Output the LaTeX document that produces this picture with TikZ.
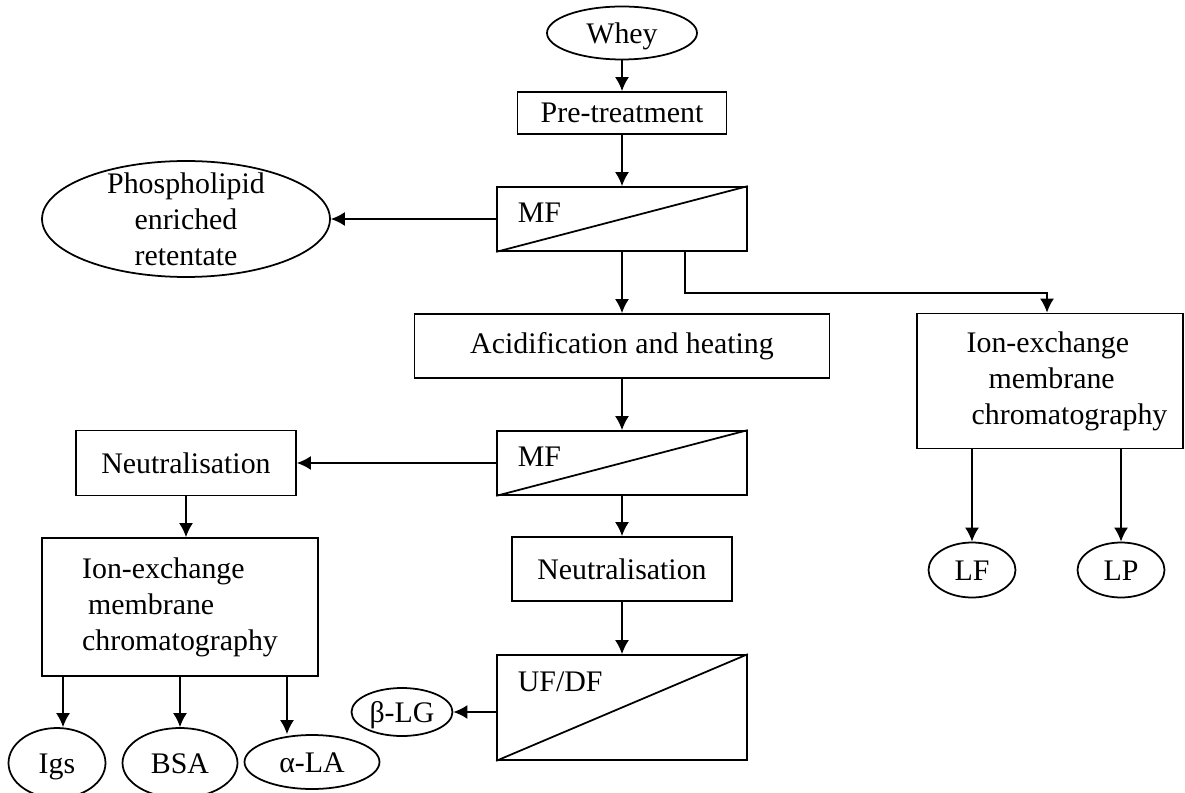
\documentclass[tikz,border=0pt]{standalone}
\usepackage{fontspec}
\setmainfont{Liberation Serif}
\usetikzlibrary{shapes.geometric,arrows.meta,positioning}
\tikzset{>={Latex[length=8pt,width=8pt]}}
\tikzset{
  stage/.style = {draw, rectangle, inner sep=0pt},
  product/.style = {draw, ellipse, inner sep=0pt, text height=11.4pt, text depth=0pt},
  filter/.style = {draw, rectangle, inner sep=0pt, minimum width=5cm, minimum height=1.28cm}
}

\begin{document}
\begin{tikzpicture}[x=0.02cm, y=-0.02cm, line width=1pt,
    font=\fontsize{17}{20.5}\selectfont]
  \useasboundingbox (0,0) rectangle (1185,793);
  % middle line
  \node[product, minimum width=3cm, minimum height=1.06cm] (whey) at (622,33) {Whey};
  \node[stage, minimum width=4.18cm, minimum height=0.84cm] (pre) at (622,113) {Pre-treatment};
  \node[filter] (mf1) at (622,219) {};
  \node[anchor=base west] (mf1lab) at ([shift={(0.3cm,-0.72cm)}]mf1.north west) {MF};
  \node[stage, minimum width=8.3cm, minimum height=1.28cm] (acid) at (622,346) {Acidification and heating};
  \node[filter] (mf2) at (622,463) {};
  \node[anchor=base west] (mf2lab) at ([shift={(0.3cm,-0.72cm)}]mf2.north west) {MF};
  \node[stage, minimum width=4.4cm, minimum height=1.28cm] (neut2) at (622,569) {Neutralisation};
  \node[filter, minimum height=2.1cm] (uf) at (622,707.5) {};
  \node[anchor=base west] (uflab) at ([shift={(0.3cm,-0.74cm)}]uf.north west) {UF/DF};
  \foreach \f in {mf1,mf2,uf}
    \draw (\f.south west) -- (\f.north east);
  \node[product, minimum width=2.02cm, minimum height=0.96cm] (blg) at (402,712) {β-LG};
  % retentate
  \node[product, minimum width=5.76cm, minimum height=2.32cm] (phos) at (186,219) {};
  \node[align=center] (phostxt) at (phos) {Phospholipid\\enriched\\retentate};
  % left branch
  \node[stage, minimum width=4.4cm, minimum height=1.3cm] (neut1) at (186,463) {Neutralisation};
  \node[stage, minimum width=5.52cm, minimum height=2.76cm, align=left] (iem1) at (180,607)
    {Ion-exchange\\\hspace*{0.12cm}membrane\\chromatography};
  \node[product, minimum width=1.94cm, minimum height=1.4cm] (igs) at (57,763) {Igs};
  \node[product, minimum width=2.3cm, minimum height=1.4cm] (bsa) at (180,763) {BSA};
  \node[product, minimum width=2.7cm, minimum height=1.08cm] (ala) at (312,762) {α-LA};
  % right branch
  \node[stage, minimum width=5.32cm, minimum height=2.7cm, align=left] (iem2) at (1050,381)
    {\hspace*{0.68cm}Ion-exchange\\\hspace*{1.12cm}membrane\\\hspace*{0.78cm}chromatography};
  \node[product, minimum width=1.74cm, minimum height=1.1cm] (lf) at (972,570) {LF};
  \node[product, minimum width=1.74cm, minimum height=1.1cm] (lp) at (1121,570) {LP};

  \draw[->] (whey) -- (pre);
  \draw[->] (pre) -- (mf1);
  \draw[->] (mf1.west) -- (phos.east);
  \draw[->] (mf1) -- (acid);
  \draw[->] ([xshift=1.26cm]mf1.south) -- ++(0,41) -| ([xshift=-0.06cm]iem2.north);
  \draw[->] (acid) -- (mf2);
  \draw[->] (mf2.west) -- (neut1.east);
  \draw[->] (mf2) -- (neut2);
  \draw[->] (neut2) -- (uf);
  \draw[->] (uf.west |- blg) -- (blg);
  \draw[->] (neut1.south) -- (neut1.south |- iem1.north);
  \draw[->] ([xshift=-2.34cm]iem1.south) -- ([xshift=-2.34cm]iem1.south |- igs.north);
  \draw[->] (iem1) -- (bsa);
  \draw[->] ([xshift=2.14cm]iem1.south) -- ([xshift=2.14cm]iem1.south |- ala.north);
  \draw[->] (iem2.south -| lf) -- (lf);
  \draw[->] (iem2.south -| lp) -- (lp);
\end{tikzpicture}
\end{document}
